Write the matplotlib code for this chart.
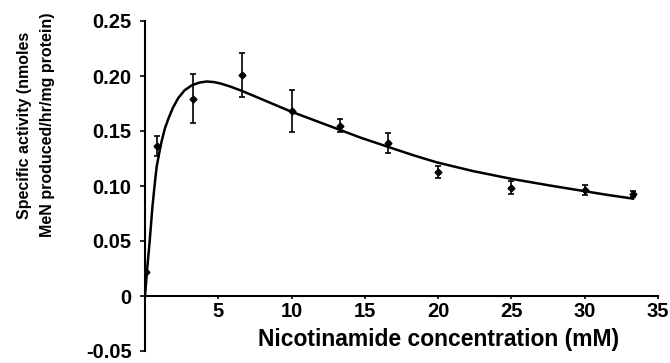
import matplotlib
matplotlib.use('Agg')
import matplotlib.pyplot as plt

plt.rcParams['font.family'] = ['Liberation Sans', 'DejaVu Sans']
plt.rcParams['font.weight'] = 'bold'

# measured points (mM, specific activity, SD)
conc = [0.05, 0.85, 3.25, 6.6, 10.0, 13.3, 16.6, 20.0, 25.0, 30.0, 33.3]
activity = [0.022, 0.136, 0.1795, 0.2005, 0.168, 0.155, 0.139, 0.1127, 0.0985, 0.096, 0.093]
sd = [0.0, 0.009, 0.0225, 0.02, 0.019, 0.0063, 0.0093, 0.0058, 0.0062, 0.0045, 0.0027]

# fitted curve
fit_x = [0, 0.15, 0.32, 0.5, 0.65, 0.8, 1.0, 1.14, 1.35, 1.59, 1.9, 2.27, 2.7,
         3.19, 3.7, 4.2, 4.7, 5.2, 5.8, 6.6, 7.5, 8.3, 9.1, 9.9, 10.8, 11.7,
         13.2, 14.7, 16.6, 18.3, 19.9, 22.4, 25.0, 27.6, 29.9, 31.5, 33.3]
fit_y = [0, 0.025, 0.05, 0.08, 0.10, 0.118, 0.132, 0.141, 0.152, 0.161, 0.171,
         0.180, 0.187, 0.1915, 0.194, 0.195, 0.1945, 0.193, 0.1905, 0.1865,
         0.1815, 0.177, 0.1725, 0.168, 0.1635, 0.159, 0.1515, 0.144, 0.1355,
         0.128, 0.1215, 0.1135, 0.1065, 0.1005, 0.0955, 0.092, 0.0885]

xticks = [5, 10, 15, 20, 25, 30, 35]
yticks = [0.25, 0.20, 0.15, 0.10, 0.05, 0, -0.05]
ytick_labels = ['0.25', '0.20', '0.15', '0.10', '0.05', '0', '-0.05']

fig = plt.figure(figsize=(6.7, 3.63), dpi=100)
ax = fig.add_axes([145/670, 12/363, 513/670, 330/363])

ax.plot(fit_x, fit_y, color='black', lw=1.8, zorder=3)
ax.errorbar(conc, activity, yerr=sd, fmt='D', color='black', ms=3.5,
            elinewidth=1.2, capsize=2.2, capthick=1.2, zorder=4)

ax.set_xlim(0, 35)
ax.set_ylim(-0.05, 0.25)

ax.spines['top'].set_visible(False)
ax.spines['right'].set_visible(False)
ax.spines['bottom'].set_position(('data', 0))
ax.spines['left'].set_linewidth(1.5)
ax.spines['bottom'].set_linewidth(1.5)

ax.set_xticks(xticks)
ax.set_yticks(yticks)
ax.set_yticklabels(ytick_labels)
ax.tick_params(axis='y', direction='out', length=3.6, width=1.2, pad=6, labelsize=14.5)
ax.tick_params(axis='x', direction='out', length=2.5, width=1.2, pad=2, labelsize=14.5)
for lab in ax.get_xticklabels() + ax.get_yticklabels():
    lab.set_fontweight('bold')

ax.text(20.0/35, 0.035, 'Nicotinamide concentration (mM)', transform=ax.transAxes,
        ha='center', va='center', fontsize=16.5, fontweight='bold')

fig.text(36/670, 1 - 125/363, 'Specific activity (nmoles\nMeN produced/hr/mg protein)',
         rotation=90, ha='center', va='center', multialignment='center',
         fontsize=11.5, fontweight='bold', linespacing=1.7)

fig.savefig('out.png', dpi=100)
